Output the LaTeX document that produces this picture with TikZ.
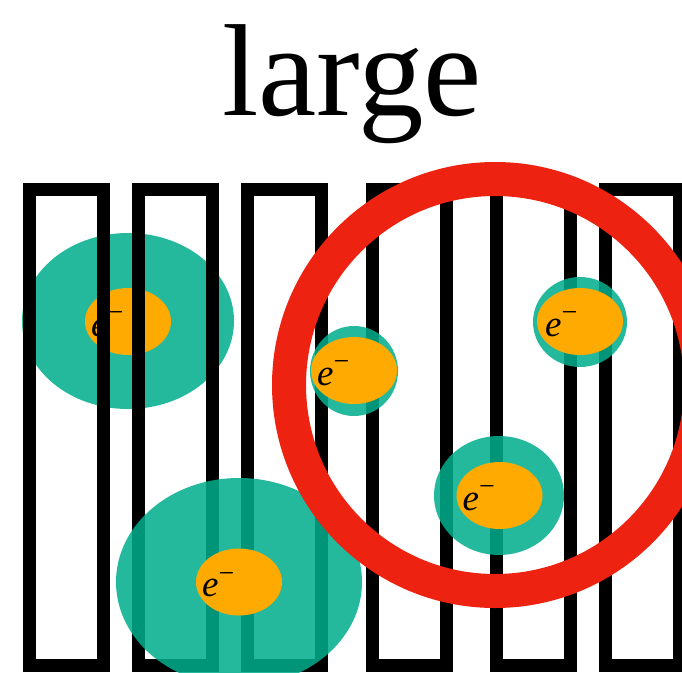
\documentclass[tikz,border=0pt]{standalone}
\usepackage{fontspec}
\setmainfont{Liberation Serif}
\usetikzlibrary{shapes.geometric}
\definecolor{teal1}{RGB}{0,174,141}
\definecolor{orng}{RGB}{255,170,0}
\definecolor{redc}{RGB}{238,34,16}
\newcommand\elec{\textit{e}\raisebox{0.38em}{\fontsize{28}{28}\selectfont −}}
\tikzset{
 bar/.style={rectangle, draw=black, line width=13pt, minimum width=74pt, minimum height=476pt, inner sep=0pt},
 cloud/.style={ellipse, fill=teal1, fill opacity=0.86, draw=none, inner sep=0pt},
 core/.style={ellipse, fill=orng, draw=none, minimum width=86pt, minimum height=67pt, inner sep=0pt},
 elab/.style={anchor=base west, inner sep=0pt, font=\fontsize{37}{37}\selectfont},
 ring/.style={circle, draw=redc, line width=34pt, minimum size=412pt, inner sep=0pt},
}
\begin{document}
\begin{tikzpicture}[x=1pt,y=-1pt]
\useasboundingbox (0,0) rectangle (682,672);
\clip (0,0) rectangle (682,672);
\node[anchor=base, inner sep=0pt, font=\fontsize{131}{131}\selectfont] (title) at (352,115) {large};
% top-left group (under the bars)
\node[cloud, minimum width=212pt, minimum height=176pt] (c1) at (128,321) {};
\node[core] (o1) at (128,321.5) {};
\node[elab] (l1) at (91,336) {\elec};
% bars
\node[bar] (b1) at (66,427.5) {};
\node[bar] (b2) at (175,427.5) {};
\node[bar] (b3) at (284.5,427.5) {};
\node[bar] (b4) at (409,427.5) {};
\node[bar] (b5) at (533.5,427.5) {};
\node[bar] (b6) at (642,427.5) {};
% other groups (over the bars)
\node[cloud, minimum width=246pt, minimum height=208pt] (c2) at (239,582) {};
\node[core] (o2) at (239,582) {};
\node[elab] (l2) at (202,596.5) {\elec};
\node[cloud, minimum width=88pt, minimum height=90pt] (c3) at (354,371) {};
\node[core] (o3) at (354,370.5) {};
\node[elab] (l3) at (317,385) {\elec};
\node[cloud, minimum width=130pt, minimum height=119pt] (c4) at (499,495.5) {};
\node[core] (o4) at (499.5,495.5) {};
\node[elab] (l4) at (462.5,510) {\elec};
\node[cloud, minimum width=94pt, minimum height=90pt] (c5) at (580,322) {};
\node[core] (o5) at (580,321.5) {};
\node[elab] (l5) at (545,336) {\elec};
% red ring
\node[ring] (r) at (495,385) {};
\end{tikzpicture}
\end{document}
